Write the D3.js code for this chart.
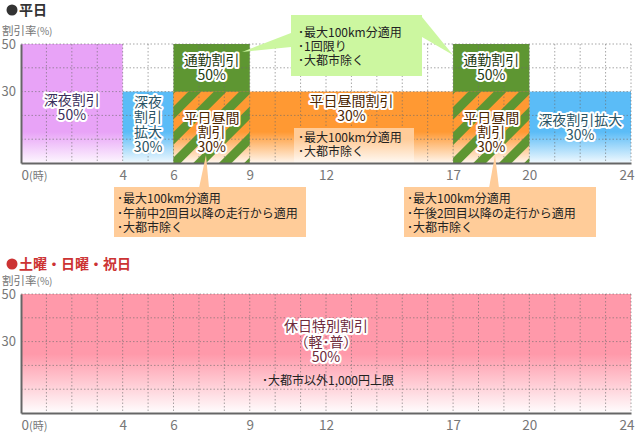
<!DOCTYPE html>
<html>
<head>
    <meta charset="utf-8">
    <title>ETC割引</title>
    <script src="https://cdn.jsdelivr.net/npm/d3@7"></script>
    <style>
        body { margin: 0; background: #fff; font-family: "Noto Sans CJK JP", sans-serif; }
        .halo { paint-order: stroke; stroke: #fff; stroke-width: 4px; stroke-linejoin: round; }
        .tick text { fill: #777; font-size: 13.5px; font-family: "Noto Sans CJK JP", sans-serif; }
    </style>
</head>
<body>
    <div id="container"></div>
    <script>
        //------------------------DATA------------------------//
        var hourTicks = [0, 4, 6, 9, 12, 17, 20, 24];
        var rateTicks = [30, 50];
        var gridRates = [10, 20, 30, 40, 50];

        // weekday bands
        var weekdayKind = ["night", "nightExt", "commute", "daytime", "commute", "nightExt"];
        var weekdayFrom = [0, 4, 6, 9, 17, 20];
        var weekdayTo = [4, 6, 9, 17, 20, 24];
        var weekdayRate = [50, 30, 50, 30, 50, 30];
        var weekdayLabel = [["深夜割引", "50%"], ["深夜", "割引", "拡大", "30%"], ["通勤割引", "50%"],
            ["平日昼間割引", "30%"], ["通勤割引", "50%"], ["深夜割引拡大", "30%"]];
        var weekdayLabelAt = [23.5, 16, 40, 23, 40, 15];

        // daytime discount overlapping the commute hours
        var overlapFrom = [6, 17];
        var overlapTo = [9, 20];
        var overlapRate = [30, 30];
        var overlapLabel = [["平日昼間", "割引", "30%"], ["平日昼間", "割引", "30%"]];
        var overlapLabelAt = [13, 13];

        // holiday band
        var holidayFrom = [0];
        var holidayTo = [24];
        var holidayRate = [50];
        var holidayLabel = [["休日特別割引", "（軽･普）", "50%"]];
        var holidayLabelAt = [30];

        var commuteNote = ["･最大100km分適用", "･1回限り", "･大都市除く"];
        var daytimeNote = ["･最大100km分適用", "･大都市除く"];
        var morningNote = ["･最大100km分適用", "･午前中2回目以降の走行から適用", "･大都市除く"];
        var afternoonNote = ["･最大100km分適用", "･午後2回目以降の走行から適用", "･大都市除く"];
        var holidayNote = ["･大都市以外1,000円上限"];

        //------------------------SETUP------------------------//
        var colors = { night: "#e8a3f7", nightExt: "#5bbcf7", commute: "#5e9632", daytime: "#ff9933", holiday: "#ff99aa" },
            textColors = { night: "#3a2f5c", nightExt: "#2a5566", commute: "#1e3a10", daytime: "#4d2600", holiday: "#6e2b3c" };

        var svg = d3.select("#container").append("svg").attr("width", 635).attr("height", 435);
        var defs = svg.append("defs");

        var x = d3.scaleLinear().domain([0, 24]).range([21, 631]);
        var yTop = d3.scaleLinear().domain([0, 50]).range([163, 44]);
        var yBot = d3.scaleLinear().domain([0, 50]).range([413, 294]);

        function fade(id, color, y0, y1, stop) {
            var g = defs.append("linearGradient").attr("id", id)
                .attr("gradientUnits", "userSpaceOnUse")
                .attr("x1", 0).attr("x2", 0).attr("y1", y0).attr("y2", y1);
            g.append("stop").attr("offset", 0).attr("stop-color", color);
            g.append("stop").attr("offset", stop).attr("stop-color", color);
            g.append("stop").attr("offset", 1).attr("stop-color", "#fff");
        }
        fade("g-night", colors.night, 44, 166, 0.72);
        fade("g-nightExt", colors.nightExt, 44, 166, 0.72);
        fade("g-daytime", colors.daytime, 44, 166, 0.72);
        fade("g-holiday", colors.holiday, 294, 414, 0.5);
        fade("g-note", "#ffcc99", 44, 166, 0.78);

        var pat = defs.append("pattern").attr("id", "stripe")
            .attr("patternUnits", "userSpaceOnUse")
            .attr("width", 18).attr("height", 18)
            .attr("patternTransform", "rotate(45)");
        pat.append("rect").attr("width", 9).attr("height", 18).attr("fill", colors.commute);

        function fillOf(kind) { return kind === "commute" ? colors.commute : "url(#g-" + kind + ")"; }

        function lines(g, rows, cx, cy, lh, color, size, halo, anchor) {
            var t = g.append("text")
                .attr("class", halo ? "halo" : null)
                .attr("text-anchor", anchor || "middle")
                .attr("fill", color)
                .style("font-size", size + "px");
            rows.forEach(function (r, i) {
                t.append("tspan").attr("x", cx)
                    .attr("y", cy + (i - (rows.length - 1) / 2) * lh)
                    .attr("dy", "0.36em").text(r);
            });
            return t;
        }

        function grid(g, y) {
            var gg = g.append("g").attr("stroke", "#6a6a6a").attr("stroke-opacity", 0.6)
                .attr("stroke-dasharray", "1.5,2");
            gg.selectAll(".v").data(d3.range(1, 25)).enter().append("line")
                .attr("x1", function (d) { return x(d); }).attr("x2", function (d) { return x(d); })
                .attr("y1", y(50)).attr("y2", y(0));
            gg.selectAll(".h").data(gridRates).enter().append("line")
                .attr("x1", x(0)).attr("x2", x(24))
                .attr("y1", function (d) { return y(d); }).attr("y2", function (d) { return y(d); });
        }

        function axes(g, y) {
            var xa = g.append("g").attr("transform", "translate(0," + y(0) + ")")
                .call(d3.axisBottom(x).tickValues(hourTicks).tickSize(0).tickPadding(7));
            xa.select(".domain").attr("stroke", "#666").attr("stroke-width", 2);
            xa.selectAll(".tick").filter(function (d) { return d === 0; }).select("text")
                .attr("text-anchor", "start").attr("x", 0).text("0")
                .append("tspan").style("font-size", "11px").text("(時)");
            xa.selectAll(".tick").filter(function (d) { return d === 24; }).select("text")
                .attr("text-anchor", "end").attr("x", 3);
            var ya = g.append("g").attr("transform", "translate(" + x(0) + ",0)")
                .call(d3.axisLeft(y).tickValues(rateTicks).tickSize(0).tickPadding(5));
            ya.select(".domain").attr("stroke", "#666").attr("stroke-width", 2);
            ya.selectAll(".tick text").style("font-size", "13px");
            var lab = g.append("text").attr("x", 2).attr("y", y(50) - 13.5).attr("dy", "0.36em")
                .attr("fill", "#777").style("font-size", "11.5px").text("割引率");
            lab.append("tspan").style("font-size", "10px").text("(%)");
        }

        function note(g, rows, left, right, top, bottom, fill, tx, ty, lh, wedges) {
            wedges.forEach(function (w) {
                g.append("path").attr("d", "M" + w.join("L") + "Z").attr("fill", fill);
            });
            g.append("rect").attr("x", left).attr("y", top)
                .attr("width", right - left).attr("height", bottom - top).attr("fill", fill);
            var t = g.append("text").attr("fill", "#222").style("font-size", "12px");
            rows.forEach(function (r, i) {
                t.append("tspan").attr("x", tx).attr("y", ty + i * lh).attr("dy", "0.36em").text(r);
            });
        }

        //------------------------WEEKDAY------------------------//
        var gTop = svg.append("g");
        gTop.append("circle").attr("cx", 12).attr("cy", 10).attr("r", 5.5).attr("fill", "#333");
        gTop.append("text").attr("x", 19).attr("y", 10).attr("dy", "0.36em").attr("fill", "#333")
            .style("font-size", "14px").style("font-weight", "bold").text("平日");

        gTop.selectAll(".band").data(weekdayKind).enter().append("rect")
            .attr("x", function (d, i) { return x(weekdayFrom[i]); })
            .attr("width", function (d, i) { return x(weekdayTo[i]) - x(weekdayFrom[i]); })
            .attr("y", function (d, i) { return yTop(weekdayRate[i]); })
            .attr("height", function (d, i) { return yTop(0) - yTop(weekdayRate[i]); })
            .attr("fill", function (d) { return fillOf(d); });

        overlapFrom.forEach(function (f, i) {
            [fillOf("daytime"), "url(#stripe)"].forEach(function (fl) {
                gTop.append("rect").attr("x", x(f)).attr("width", x(overlapTo[i]) - x(f))
                    .attr("y", yTop(overlapRate[i])).attr("height", yTop(0) - yTop(overlapRate[i]))
                    .attr("fill", fl);
            });
        });

        grid(gTop, yTop);

        note(gTop, daytimeNote, 294, 414, 128, yTop(0), "url(#g-note)", 298, 138, 14, []);

        axes(gTop, yTop);

        weekdayKind.forEach(function (k, i) {
            lines(gTop, weekdayLabel[i], x((weekdayFrom[i] + weekdayTo[i]) / 2), yTop(weekdayLabelAt[i]),
                15, textColors[k], 14, true);
        });
        overlapFrom.forEach(function (f, i) {
            lines(gTop, overlapLabel[i], x((f + overlapTo[i]) / 2), yTop(overlapLabelAt[i]),
                14.5, textColors.daytime, 14, true);
        });

        note(gTop, commuteNote, 291, 422, 15, 76, "#ccf7a0", 298, 33, 14,
            [[[291, 33], [242, 52], [291, 47]], [[422, 17], [453, 55], [422, 37]]]);
        note(gTop, morningNote, 114, 306, 187, 237, "#ffcc99", 117, 199, 14.5,
            [[[199, 188], [206, 155], [209, 188]]]);
        note(gTop, afternoonNote, 404, 596, 187, 237, "#ffcc99", 407, 199, 14.5,
            [[[489, 188], [495, 155], [499, 188]]]);

        //------------------------HOLIDAY------------------------//
        var gBot = svg.append("g");
        gBot.append("circle").attr("cx", 12).attr("cy", 264).attr("r", 5.5).attr("fill", "#cc3333");
        gBot.append("text").attr("x", 19).attr("y", 264).attr("dy", "0.36em").attr("fill", "#cc3333")
            .style("font-size", "14px").style("font-weight", "bold").text("土曜・日曜・祝日");

        gBot.selectAll(".band").data(holidayFrom).enter().append("rect")
            .attr("x", function (d) { return x(d); })
            .attr("width", function (d, i) { return x(holidayTo[i]) - x(d); })
            .attr("y", function (d, i) { return yBot(holidayRate[i]); })
            .attr("height", function (d, i) { return yBot(0) - yBot(holidayRate[i]); })
            .attr("fill", "url(#g-holiday)");

        grid(gBot, yBot);
        axes(gBot, yBot);

        holidayFrom.forEach(function (f, i) {
            lines(gBot, holidayLabel[i], x((f + holidayTo[i]) / 2), yBot(holidayLabelAt[i]),
                15.5, textColors.holiday, 14, true);
        });
        lines(gBot, holidayNote, x(12) + 2, 381, 14, "#222", 12, false);
    </script>
</body>
</html>
